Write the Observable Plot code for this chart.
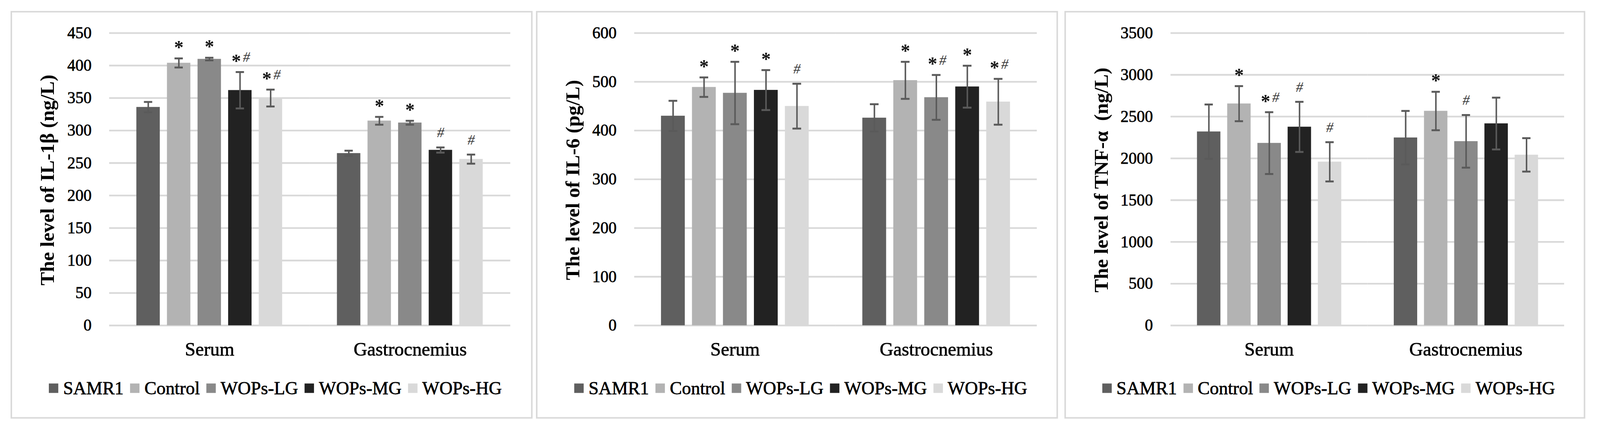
<!DOCTYPE html>
<html>
<head>
<meta charset="utf-8">
<script src="https://cdn.jsdelivr.net/npm/d3@7"></script>
<script src="https://cdn.jsdelivr.net/npm/@observablehq/plot@0.6"></script>
<style>
  html, body { margin: 0; padding: 0; background: #fff; overflow: hidden; }
  #page { position: relative; width: 4236px; height: 1144px; background: #fff; overflow: hidden; transform-origin: 0 0; }
  .panel { position: absolute; box-sizing: border-box; border: 4px solid #d9d9d9; }
  .chart { position: absolute; top: 0; }
  .chart g[aria-label="y-axis tick label"] text,
  .chart g[aria-label="fx-axis tick label"] text { stroke: #000; stroke-width: 0.9px; }
  .ytitle { position: absolute; width: 900px; height: 53px; line-height: 53px; text-align: center;
            font-family: 'Liberation Serif', serif; font-weight: bold; font-size: 53px; color: #000;
            transform: rotate(-90deg); white-space: pre; }
  .legend { position: absolute; display: flex; align-items: center; white-space: nowrap;
            font-family: 'Liberation Serif', serif; font-size: 48px; line-height: 48px; color: #000;
            -webkit-text-stroke: 0.9px #000; transform: translateX(-50%); }
  .legend .sw { display: inline-block; width: 25px; height: 25px; margin-right: 13px; }
  .legend .lb { margin-right: 17px; }
  .legend .lb:last-child { margin-right: 0; }
</style>
</head>
<body>
<div id="page"></div>
<script>
// ---------- data ----------
const groups = ["Serum", "Gastrocnemius"];
const series = ["SAMR1", "Control", "WOPs-LG", "WOPs-MG", "WOPs-HG"];
const colors = ["#5f5f5f", "#b3b3b3", "#898989", "#222222", "#d9d9d9"];

// IL-1β (ng/L)
const il1bSerum = [336, 404, 410, 362, 350];
const il1bSerumErr = [8, 7, 2, 28, 13];
const il1bGastro = [265, 315, 312, 270, 256];
const il1bGastroErr = [4, 6, 3, 4, 7];
const il1bSerumSig = ["", "*", "*", "*#", "*#"];
const il1bGastroSig = ["", "*", "*", "#", "#"];
const il1bTicks = [0, 50, 100, 150, 200, 250, 300, 350, 400, 450];

// IL-6 (pg/L)
const il6Serum = [430, 489, 477, 483, 450];
const il6SerumErr = [31, 20, 64, 41, 46];
const il6Gastro = [426, 503, 468, 490, 459];
const il6GastroErr = [28, 38, 46, 43, 47];
const il6SerumSig = ["", "*", "*", "*", "#"];
const il6GastroSig = ["", "*", "*#", "*", "*#"];
const il6Ticks = [0, 100, 200, 300, 400, 500, 600];

// TNF-α (ng/L)
const tnfSerum = [2320, 2655, 2183, 2377, 1959];
const tnfSerumErr = [325, 210, 370, 300, 235];
const tnfGastro = [2248, 2567, 2204, 2417, 2042];
const tnfGastroErr = [320, 230, 315, 310, 200];
const tnfSerumSig = ["", "*", "*#", "#", "#"];
const tnfGastroSig = ["", "*", "#", "", ""];
const tnfTicks = [0, 500, 1000, 1500, 2000, 2500, 3000, 3500];

const titles = ["The level of IL-1β (ng/L)", "The level of IL-6 (pg/L)", "The level of TNF-α  (ng/L)"];

// ---------- layout ----------
const panels = [
  {left: 28, right: 1410, plotLeft: 289, plotRight: 1351,
   vals: [il1bSerum, il1bGastro], errs: [il1bSerumErr, il1bGastroErr], sigs: [il1bSerumSig, il1bGastroSig], ticks: il1bTicks, title: titles[0]},
  {left: 1419, right: 2801, plotLeft: 1678, plotRight: 2745,
   vals: [il6Serum, il6Gastro], errs: [il6SerumErr, il6GastroErr], sigs: [il6SerumSig, il6GastroSig], ticks: il6Ticks, title: titles[1]},
  {left: 2818, right: 4197, plotLeft: 3099, plotRight: 4141,
   vals: [tnfSerum, tnfGastro], errs: [tnfSerumErr, tnfGastroErr], sigs: [tnfSerumSig, tnfGastroSig], ticks: tnfTicks, title: titles[2]}
];
const panelTop = 29, panelBottom = 1108;
const plotTop = 87, plotBase = 861, svgH = 980;
const font = "'Liberation Serif', serif";
const errColor = "#5a5a5a";

const page = document.getElementById("page");
function fit() {
  const s = Math.min(window.innerWidth / 4236, window.innerHeight / 1144);
  page.style.transform = "scale(" + s + ")";
}
fit();
window.addEventListener("resize", fit);

panels.forEach(p => {
  const w = p.right - p.left;
  const box = document.createElement("div");
  box.className = "panel";
  box.style.left = p.left + "px";
  box.style.top = panelTop + "px";
  box.style.width = w + "px";
  box.style.height = (panelBottom - panelTop) + "px";
  page.appendChild(box);

  const rows = groups.flatMap((g, gi) => series.map((s, si) => ({
    group: g, series: s, value: p.vals[gi][si], err: p.errs[gi][si], sig: p.sigs[gi][si]
  })));
  const lo = d => d.value - d.err;
  const hi = d => d.value + d.err;
  const starOnly = rows.filter(d => d.sig.includes("*") && !d.sig.includes("#"));
  const starPair = rows.filter(d => d.sig.includes("*") && d.sig.includes("#"));
  const hashOnly = rows.filter(d => d.sig.includes("#") && !d.sig.includes("*"));

  const chart = Plot.plot({
    width: w,
    height: svgH,
    marginLeft: p.plotLeft - p.left,
    marginRight: p.right - p.plotRight,
    marginTop: plotTop,
    marginBottom: svgH - plotBase,
    style: {fontFamily: font, fontSize: "43px", color: "#000", background: "transparent", overflow: "visible"},
    fx: {domain: groups, padding: 0, label: null},
    x: {domain: series, paddingInner: 0.23, paddingOuter: 0.853, axis: null},
    y: {domain: [0, p.ticks[p.ticks.length - 1]], label: null},
    color: {domain: series, range: colors},
    marks: [
      Plot.ruleY(p.ticks, {stroke: "#d9d9d9", strokeWidth: 4.5}),
      Plot.barY(rows, {fx: "group", x: "series", y: "value", fill: "series"}),
      Plot.ruleX(rows, {fx: "group", x: "series", y1: lo, y2: hi, stroke: errColor, strokeWidth: 4}),
      Plot.tickY(rows, {fx: "group", x: "series", y: hi, stroke: errColor, strokeWidth: 5, insetLeft: 20, insetRight: 20}),
      Plot.tickY(rows, {fx: "group", x: "series", y: lo, stroke: errColor, strokeWidth: 5, insetLeft: 20, insetRight: 20}),
      Plot.text(starOnly, {fx: "group", x: "series", y: hi, text: () => "*", dy: -29, fontSize: 50, fontWeight: "bold", fill: "#111"}),
      Plot.text(starPair, {fx: "group", x: "series", y: hi, text: () => "*", dy: -29, dx: -10, fontSize: 50, fontWeight: "bold", fill: "#111"}),
      Plot.text(starPair, {fx: "group", x: "series", y: hi, text: () => "#", dy: -39, dx: 17, fontSize: 38, fontStyle: "italic", fill: "#333"}),
      Plot.text(hashOnly, {fx: "group", x: "series", y: hi, text: () => "#", dy: -39, fontSize: 38, fontStyle: "italic", fill: "#333"}),
      Plot.axisY({ticks: p.ticks, tickFormat: "d", tickSize: 0, tickPadding: 47, label: null, fontSize: 43}),
      Plot.axisFx({anchor: "bottom", tickSize: 0, tickPadding: 44, label: null, fontSize: 50})
    ]
  });
  chart.classList.add("chart");
  chart.style.left = p.left + "px";
  chart.style.top = "0px";
  page.appendChild(chart);

  const t = document.createElement("div");
  t.className = "ytitle";
  t.textContent = p.title;
  const cx = p.left + 97, cy = 476;
  t.style.left = (cx - 450) + "px";
  t.style.top = (cy - 26.5) + "px";
  page.appendChild(t);

  const lg = document.createElement("div");
  lg.className = "legend";
  lg.style.left = ((p.left + p.right) / 2 + 10) + "px";
  lg.style.top = "1003px";
  series.forEach((s, i) => {
    const sw = document.createElement("span");
    sw.className = "sw";
    sw.style.background = colors[i];
    const lb = document.createElement("span");
    lb.className = "lb";
    lb.textContent = s;
    lg.appendChild(sw);
    lg.appendChild(lb);
  });
  page.appendChild(lg);
});
</script>
</body>
</html>
